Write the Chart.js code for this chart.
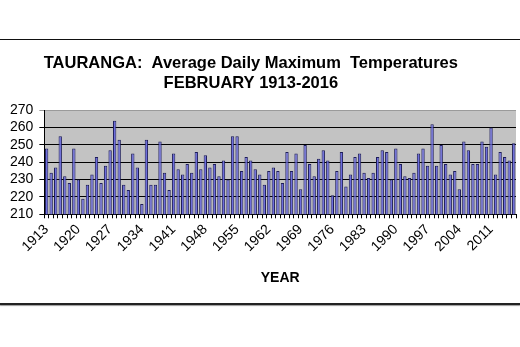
<!DOCTYPE html>
<html lang="en">
<head>
  <meta charset="UTF-8">
  <title>Tauranga February maximum temperatures</title>
  <script src="https://cdn.jsdelivr.net/npm/chart.js"></script>
  <style>
    html, body {
      margin: 0;
      padding: 0;
      background: #fff;
    }
    #wrap {
      position: relative;
      width: 520px;
      height: 347px;
    }
    .rule-top {
      position: absolute;
      left: 0;
      top: 39px;
      width: 520px;
      height: 1px;
      background: #111;
    }
    .rule-bottom {
      position: absolute;
      left: 0;
      top: 303px;
      width: 520px;
      height: 2px;
      background: #222;
      box-shadow: 0 1px 1px #999;
    }
    canvas {
      position: absolute;
      left: 0;
      top: 0;
    }
  </style>
</head>
<body>
  <div id="wrap">
    <div class="rule-top"></div>
    <div class="rule-bottom"></div>
    <canvas id="chart" width="520" height="347"></canvas>
  </div>

  <script>
    const years = [
      1913, 1914, 1915, 1916, 1917, 1918, 1919, 1920, 1921, 1922, 1923, 1924, 1925,
      1926, 1927, 1928, 1929, 1930, 1931, 1932, 1933, 1934, 1935, 1936, 1937, 1938,
      1939, 1940, 1941, 1942, 1943, 1944, 1945, 1946, 1947, 1948, 1949, 1950, 1951,
      1952, 1953, 1954, 1955, 1956, 1957, 1958, 1959, 1960, 1961, 1962, 1963, 1964,
      1965, 1966, 1967, 1968, 1969, 1970, 1971, 1972, 1973, 1974, 1975, 1976, 1977,
      1978, 1979, 1980, 1981, 1982, 1983, 1984, 1985, 1986, 1987, 1988, 1989, 1990,
      1991, 1992, 1993, 1994, 1995, 1996, 1997, 1998, 1999, 2000, 2001, 2002, 2003,
      2004, 2005, 2006, 2007, 2008, 2009, 2010, 2011, 2012, 2013, 2014, 2015, 2016
    ];

    // average daily max, tenths of a degree (as on the axis)
    const maxTemps = [
      248, 234, 237, 255, 232, 228, 248, 230, 219, 227, 233, 243, 228,
      238, 247, 264, 253, 227, 224, 245, 237, 216, 253, 227, 227, 252,
      234, 224, 245, 236, 233, 239, 234, 246, 236, 244, 237, 239, 232,
      241, 230, 255, 255, 235, 243, 241, 236, 233, 227, 235, 237, 235,
      228, 246, 235, 245, 224.5, 250, 239, 232, 242, 247, 241, 221, 235,
      246, 226, 233, 243, 245, 234, 231, 234, 243, 247, 246, 230, 248,
      239, 232, 231, 234, 245, 248, 238, 262, 238, 250, 239, 233, 235,
      224.5, 252, 247, 239, 239, 252, 249, 260, 233, 246, 243, 241, 251
    ];

    const yTicks = [210, 220, 230, 240, 250, 260, 270];
    const labelEvery = 7;

    // trailing spaces nudge the centred title a little left, as in the original
    const titleLines = [
      'TAURANGA:  Average Daily Maximum  Temperatures    ',
      'FEBRUARY 1913-2016    '
    ];

    const FONT = "'Liberation Sans', Arial, sans-serif";

    // grey plot area like the old Excel charts
    const plotBg = {
      id: 'plotBg',
      beforeDraw(chart) {
        const { ctx, chartArea: a } = chart;
        ctx.save();
        ctx.fillStyle = '#c3c3c3';
        ctx.fillRect(a.left, a.top, a.right - a.left, a.bottom - a.top);
        ctx.restore();
      }
    };

    new Chart(document.getElementById('chart'), {
      type: 'bar',
      data: {
        labels: years,
        datasets: [{
          data: maxTemps,
          backgroundColor: '#6c6cdc',
          borderColor: '#1e1e5a',
          borderWidth: 1,
          categoryPercentage: 1,
          barPercentage: 0.74
        }]
      },
      options: {
        responsive: false,
        animation: false,
        layout: { padding: { left: 4, right: 4, bottom: 60, top: 0 } },
        plugins: {
          legend: { display: false },
          tooltip: { enabled: false },
          title: {
            display: true,
            text: titleLines,
            color: '#000',
            font: { family: FONT, size: 16.5, weight: 'bold', lineHeight: 1.22 },
            padding: { top: 53, bottom: 17 }
          }
        },
        scales: {
          x: {
            border: { color: '#000', width: 1 },
            grid: {
              drawOnChartArea: false,
              color: '#000',
              tickLength: 4
            },
            ticks: {
              autoSkip: false,
              maxRotation: 45,
              minRotation: 45,
              color: '#000',
              padding: 3,
              font: { family: FONT, size: 14 },
              callback: (v, i) => (i % labelEvery === 0 ? years[i] : '')
            },
            title: {
              display: true,
              text: 'YEAR',
              color: '#000',
              font: { family: FONT, size: 14, weight: 'bold' },
              padding: { top: 12, bottom: 0 }
            },
            // last label is blank, so no room is needed on the right
            afterFit: (s) => { s.paddingRight = 0; }
          },
          y: {
            min: yTicks[0],
            max: yTicks[yTicks.length - 1],
            border: { color: '#000', width: 1 },
            grid: {
              color: (c) => (c.tick && c.tick.value === 270 ? '#9a9a9a' : '#000'),
              tickLength: 5
            },
            ticks: {
              autoSkip: false,
              stepSize: 10,
              color: '#000',
              padding: 6,
              font: { family: FONT, size: 14 }
            },
            afterBuildTicks: (s) => { s.ticks = yTicks.map(v => ({ value: v })); }
          }
        }
      },
      plugins: [plotBg]
    });
  </script>
</body>
</html>
